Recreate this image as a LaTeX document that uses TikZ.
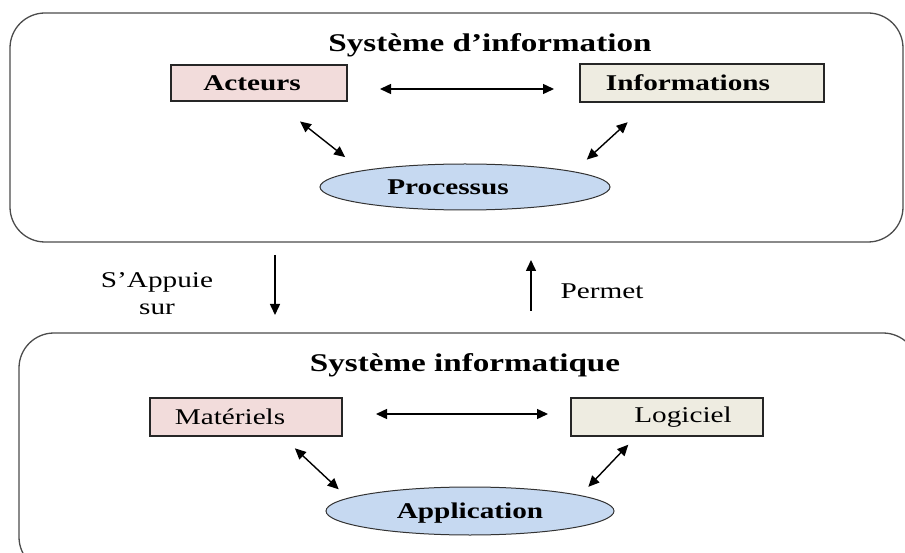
\documentclass[tikz,border=0pt]{standalone}
\usepackage{fontspec}
\setmainfont[FakeStretch=1.3]{Liberation Serif}
\usepackage{tikz}
\usetikzlibrary{shapes.geometric,arrows.meta}

\definecolor{rose}{HTML}{F2DCDB}
\definecolor{beige}{HTML}{EEECE1}
\definecolor{bleu}{HTML}{C6D9F1}
\newcommand{\taille}{\fontsize{22.5}{27}\selectfont}

\tikzset{
  cadre/.style={draw=black!70, line width=1.3pt, rounded corners=35pt, inner sep=0pt, outer sep=0pt},
  boite/.style={draw=black!85, line width=1.3pt, inner sep=2pt, outer sep=0pt, font=\taille},
  ellip/.style={ellipse, draw=black!80, line width=1pt, fill=bleu, inner sep=0pt, outer sep=0pt, text depth=0pt, font=\taille\bfseries},
  titre/.style={font=\fontsize{25.5}{30}\selectfont\bfseries},
  texte/.style={font=\taille, align=center},
  fl/.style={line width=1.5pt, -{Triangle[length=11pt,width=10pt]}},
  dfl/.style={line width=1.4pt, {Triangle[length=11pt,width=10pt]}-{Triangle[length=11pt,width=10pt]}}
}

\begin{document}
\begin{tikzpicture}[x=1pt,y=-1pt]
\useasboundingbox (0,0) rectangle (905,553);
\clip (0,0) rectangle (905,553);
\node[cadre, minimum width=893pt, minimum height=229pt] (haut) at (456.5,127.5) {};
\node[cadre, minimum width=899pt, minimum height=239pt] (bas) at (468.5,452.5) {};
\node[titre, anchor=base] (titinfo) at (490,52) {Système d’information};
\node[titre, anchor=base] (titinfq) at (465,371) {Système informatique};
\node[boite, fill=rose, minimum width=176pt, minimum height=36pt, font=\taille\bfseries] (act) at (259,83) {Acteurs\hspace*{14pt}};
\node[boite, fill=beige, minimum width=244pt, minimum height=38pt, font=\taille\bfseries] (info) at (702,83) {Informations\hspace*{28pt}};
\node[ellip, minimum width=290pt, minimum height=46pt] (proc) at (465,187) {Processus\hspace*{34pt}};
\node[boite, fill=rose, minimum width=192pt, minimum height=38pt] (mat) at (246,417) {Matériels\hspace*{32pt}};
\node[boite, fill=beige, minimum width=192pt, minimum height=38pt] (log) at (667,417) {\hspace*{32pt}Logiciel};
\node[ellip, minimum width=288pt, minimum height=48pt] (app) at (470,511) {Application};
\node[texte] (sapp) at (157,294) {S’Appuie\\sur};
\node[texte, anchor=base west] (perm) at (557,299) {Permet};
\coordinate (xdesc) at (275,0);
\coordinate (xmonte) at (531,0);
\draw[dfl, shorten <=33pt, shorten >=26pt] ([yshift=-6pt]act.east) -- ([yshift=-6pt]info.west);
\draw[dfl, shorten <=33pt, shorten >=22pt] (act.-50) -- (proc.171);
\draw[dfl, shorten <=30pt, shorten >=18pt] (info.200) -- (proc.8);
\draw[fl, shorten <=13pt, shorten >=18pt] (haut.south -| xdesc) -- (bas.north -| xdesc);
\draw[fl, shorten <=22pt, shorten >=18pt] (bas.north -| xmonte) -- (haut.south -| xmonte);
\draw[dfl, shorten <=34pt, shorten >=23pt] ([yshift=3pt]mat.east) -- ([yshift=3pt]log.west);
\draw[dfl, shorten <=18pt, shorten >=13pt] (mat.-28) -- (app.174);
\draw[dfl, shorten <=12pt, shorten >=12pt] (log.212) -- (app.8);
\end{tikzpicture}
\end{document}
